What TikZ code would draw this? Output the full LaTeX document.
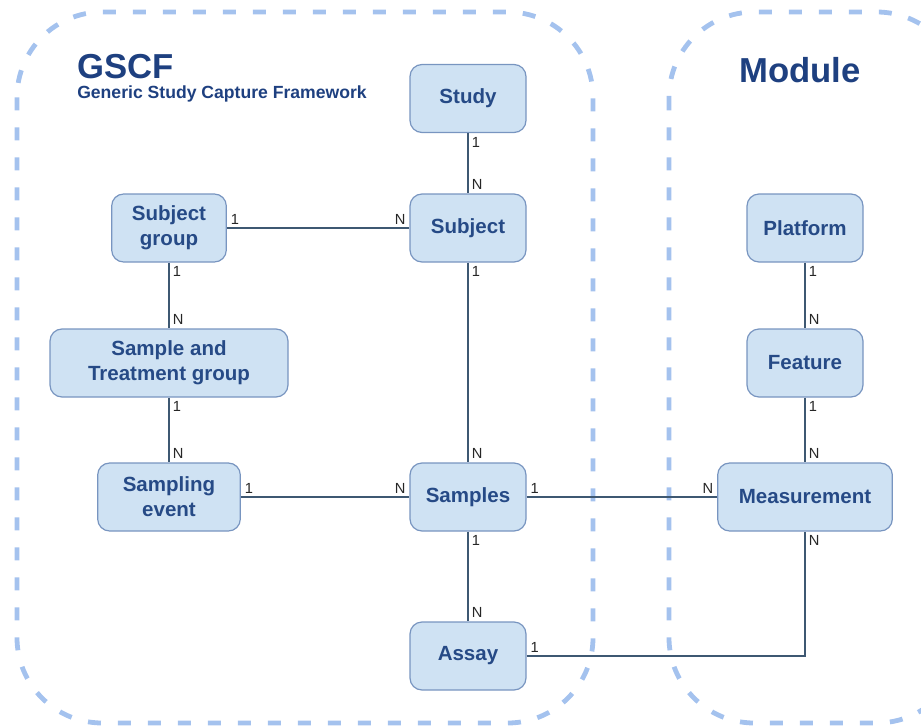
\documentclass[tikz,border=0pt]{standalone}
\usepackage{fontspec}
\setmainfont{Liberation Sans}
\definecolor{entfill}{HTML}{CFE2F3}
\definecolor{entdraw}{HTML}{7895C0}
\definecolor{enttext}{HTML}{264A86}
\definecolor{titletext}{HTML}{1E4080}
\definecolor{framecol}{HTML}{A4C2EE}
\definecolor{conncol}{HTML}{3E5872}
\tikzset{
  ent/.style = {align=center, inner sep=0pt, text centered,
    font=\fontsize{15.4}{18.75}\selectfont\bfseries, text=enttext},
  ent_box/.style = {ent, rectangle, rounded corners=9pt, draw=entdraw,
    fill=entfill, line width=0.9pt, minimum width=87pt, minimum height=51pt},% entity box
  card/.style = {inner xsep=2.5pt, inner ysep=2.5pt, font=\fontsize{11}{12}\selectfont,
    text=black!85},% cardinality 1 / N
  conn/.style = {draw=conncol, line width=0.9pt},
  frame_dash/.style = {draw=framecol, line width=3.6pt,
    dash pattern=on 9.75pt off 12.75pt, rounded corners=64pt}% module frame
}

\begin{document}
\begin{tikzpicture}[x=0.75pt,y=-0.75pt]
\useasboundingbox (0,0) rectangle (921,728);
\begin{scope}
\clip (0,0) rectangle (921,728);
\draw [frame_dash] (17,12) rectangle (593,723);
\draw [frame_dash] (669,12) rectangle (962,723);
\end{scope}

\node [anchor=base west, inner sep=0pt, text=titletext,
  font=\fontsize{26}{30}\selectfont\bfseries] (gscf) at (77,78) {GSCF};
\node [anchor=base west, inner sep=0pt, text=titletext,
  font=\fontsize{13.2}{15}\selectfont\bfseries] (gscfsub) at (77,98)
  {Generic Study Capture Framework};
\node [anchor=base, inner sep=0pt, text=titletext,
  font=\fontsize{26}{30}\selectfont\bfseries] (module) at (800,82) {Module};

% GSCF side
\node [ent_box] (study) at (468,98.5) {Study};
\node [ent_box] (subject) at (468,228) {Subject};
\node [ent_box, minimum width=86pt] (subjgroup) at (169,228) {Subject\\group};
\node [ent_box, minimum width=178.5pt] (treatgroup) at (169,363) {Sample and\\Treatment group};
\node [ent_box, minimum width=107pt] (sampevent) at (169,497) {Sampling\\event};
\node [ent_box] (samples) at (468,497) {Samples};
\node [ent_box] (assay) at (468,656) {Assay};
% module side
\node [ent_box] (platform) at (805,228) {Platform};
\node [ent_box] (feature) at (805,363) {Feature};
\node [ent_box, minimum width=131pt] (measure) at (805,497) {Measurement};

\draw [conn] (study) -- (subject)
  node [card, pos=0, anchor=north west] {1} node [card, pos=1, anchor=south west] {N};
\draw [conn] (subjgroup) -- (subject)
  node [card, pos=0, anchor=south west] {1} node [card, pos=1, anchor=south east] {N};
\draw [conn] (subjgroup) -- (treatgroup)
  node [card, pos=0, anchor=north west] {1} node [card, pos=1, anchor=south west] {N};
\draw [conn] (treatgroup) -- (sampevent)
  node [card, pos=0, anchor=north west] {1} node [card, pos=1, anchor=south west] {N};
\draw [conn] (subject) -- (samples)
  node [card, pos=0, anchor=north west] {1} node [card, pos=1, anchor=south west] {N};
\draw [conn] (sampevent) -- (samples)
  node [card, pos=0, anchor=south west] {1} node [card, pos=1, anchor=south east] {N};
\draw [conn] (samples) -- (assay)
  node [card, pos=0, anchor=north west] {1} node [card, pos=1, anchor=south west] {N};
\draw [conn] (samples) -- (measure)
  node [card, pos=0, anchor=south west] {1} node [card, pos=1, anchor=south east] {N};
\draw [conn] (platform) -- (feature)
  node [card, pos=0, anchor=north west] {1} node [card, pos=1, anchor=south west] {N};
\draw [conn] (feature) -- (measure)
  node [card, pos=0, anchor=north west] {1} node [card, pos=1, anchor=south west] {N};
\draw [conn] (assay.east) -| (measure.south)
  node [card, pos=0, anchor=south west] {1} node [card, pos=1, anchor=north west] {N};
\end{tikzpicture}
\end{document}
